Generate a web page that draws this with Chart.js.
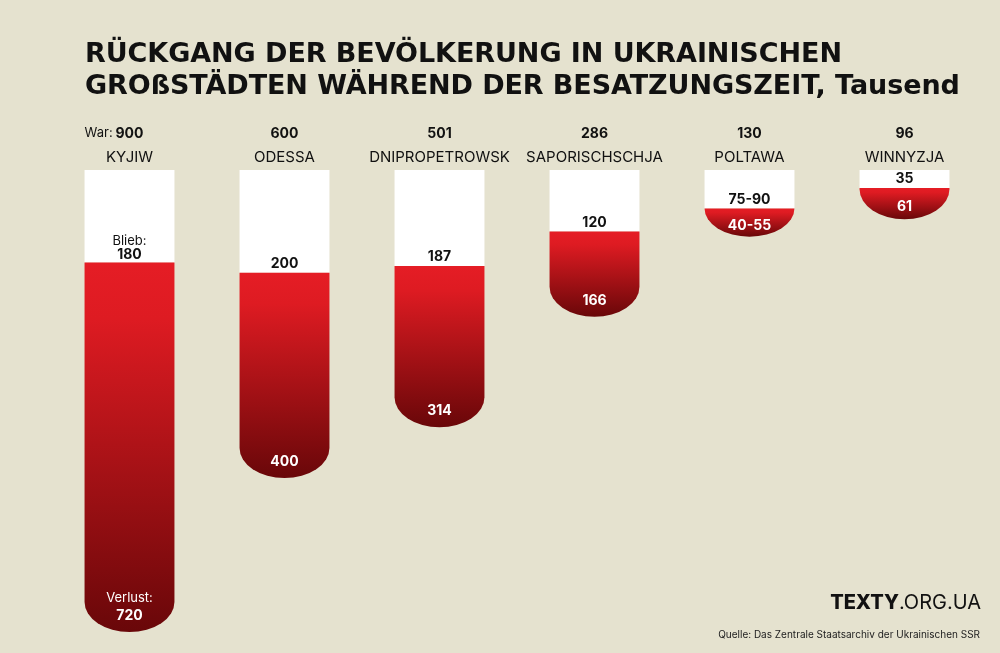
<!DOCTYPE html>
<html>
<head>
<meta charset="utf-8">
<script src="https://cdn.jsdelivr.net/npm/chart.js@4"></script>
<style>
  html, body { margin: 0; padding: 0; background: #e5e2cf; }
</style>
</head>
<body>
<canvas id="popChart" width="1000" height="653"></canvas>
<script>
// Population of Ukrainian cities before / during the occupation, thousands
const cities = ["KYJIW", "ODESSA", "DNIPROPETROWSK", "SAPORISCHSCHJA", "POLTAWA", "WINNYZJA"];
const totals = [900, 600, 501, 286, 130, 96];
const remained = [180, 200, 187, 120, 75, 35];
const lost = [720, 400, 314, 166, 55, 61];
const remainedLabels = ["180", "200", "187", "120", "75-90", "35"];
const lostLabels = ["720", "400", "314", "166", "40-55", "61"];

const titleLines = [
  "RÜCKGANG DER BEVÖLKERUNG IN UKRAINISCHEN",
  "GROßSTÄDTEN WÄHREND DER BESATZUNGSZEIT, Tausend",
];
const titleWidths = [757, 875]; // width each title line takes in the reference

const BG = "#e5e2cf";
const INK = "#111111";

// draws the red part of each bar with an elliptic bottom and gradient
const lossBars = {
  id: "lossBars",
  afterDatasetsDraw(chart) {
    const ctx = chart.ctx;
    const meta = chart.getDatasetMeta(1);
    meta.data.forEach((bar) => {
      const { x, y, base, width } = bar.getProps(["x", "y", "base", "width"], true);
      const top = Math.min(y, base);
      const bottom = Math.max(y, base);
      const left = x - width / 2;
      const right = x + width / 2;
      const ry = Math.min(30, bottom - top);

      const grad = ctx.createLinearGradient(0, top, 0, bottom);
      grad.addColorStop(0, "#e51d25");
      grad.addColorStop(0.15, "#de1b22");
      grad.addColorStop(1, "#690709");

      ctx.save();
      ctx.beginPath();
      ctx.moveTo(left, top);
      ctx.lineTo(right, top);
      ctx.lineTo(right, bottom - ry);
      ctx.ellipse(x, bottom - ry, width / 2, ry, 0, 0, Math.PI);
      ctx.lineTo(left, top);
      ctx.closePath();
      ctx.fillStyle = grad;
      ctx.fill();
      ctx.restore();
    });
  },
};

// texts: title, totals, city names, values, source
const textLayer = {
  id: "textLayer",
  beforeDraw(chart) {
    const ctx = chart.ctx;
    ctx.save();
    ctx.fillStyle = BG;
    ctx.fillRect(0, 0, chart.width, chart.height);
    ctx.restore();
  },
  afterDraw(chart) {
    const ctx = chart.ctx;
    const xs = chart.scales.x;
    const ys = chart.scales.y;
    ctx.save();
    ctx.textBaseline = "alphabetic";

    // title, each line spread to the reference width
    ctx.fillStyle = INK;
    ctx.textAlign = "left";
    ctx.font = "bold 27px 'DejaVu Sans'";
    titleLines.forEach((line, k) => {
      ctx.letterSpacing = "0px";
      const w = ctx.measureText(line).width;
      const sp = (titleWidths[k] - w) / (line.length - 1);
      ctx.letterSpacing = sp.toFixed(2) + "px";
      ctx.fillText(line, 85, k === 0 ? 62 : 94);
    });
    ctx.letterSpacing = "0px";

    cities.forEach((city, i) => {
      const x = xs.getPixelForValue(i);
      const bar = chart.getDatasetMeta(0).data[i];
      const half = bar.width / 2;
      const boundary = ys.getPixelForValue(remained[i]);
      const bottom = ys.getPixelForValue(remained[i] + lost[i]);

      ctx.textAlign = "center";
      ctx.fillStyle = INK;
      ctx.font = "700 14px Inter";
      ctx.fillText(String(totals[i]), x, 138);
      if (i === 0) {
        ctx.textAlign = "left";
        ctx.font = "400 13px Inter";
        ctx.fillText("War:", x - half, 137);
        ctx.textAlign = "center";
      }

      ctx.font = "400 15px Inter";
      ctx.fillText(city, x, 162);

      // remained label
      ctx.font = "700 14px Inter";
      const rb = i === 0 ? boundary - 3 : boundary - 5;
      ctx.fillText(remainedLabels[i], x, rb);
      if (i === 0) {
        ctx.font = "400 13px Inter";
        ctx.fillText("Blieb:", x, rb - 14);
      }

      // lost label
      ctx.fillStyle = "#ffffff";
      ctx.font = "700 14px Inter";
      const lb = bottom - Math.min(12, (bottom - boundary) * 0.25);
      ctx.fillText(lostLabels[i], x, lb);
      if (i === 0) {
        ctx.font = "400 13px Inter";
        ctx.fillText("Verlust:", x, lb - 18);
      }
    });

    // brand and source
    ctx.fillStyle = INK;
    ctx.textAlign = "right";
    ctx.font = "400 20px Inter";
    const tail = ".ORG.UA";
    const tailW = ctx.measureText(tail).width;
    ctx.fillText(tail, 981, 609);
    ctx.font = "800 20px Inter";
    ctx.fillText("TEXTY", 981 - tailW, 609);

    ctx.font = "400 10px Inter";
    ctx.fillStyle = "#222222";
    ctx.fillText("Quelle: Das Zentrale Staatsarchiv der Ukrainischen SSR", 980, 638);
    ctx.restore();
  },
};

new Chart(document.getElementById("popChart").getContext("2d"), {
  type: "bar",
  data: {
    labels: cities,
    datasets: [
      {
        label: "Blieb",
        data: remained,
        backgroundColor: "#ffffff",
        borderWidth: 0,
      },
      {
        label: "Verlust",
        data: lost,
        backgroundColor: "rgba(0,0,0,0)",
        borderWidth: 0,
      },
    ],
  },
  options: {
    responsive: false,
    animation: false,
    layout: { padding: { left: 52, right: 18, top: 170, bottom: 21 } },
    datasets: { bar: { categoryPercentage: 1, barPercentage: 0.58 } },
    scales: {
      x: { display: false, stacked: true },
      y: { display: false, stacked: true, reverse: true, min: 0, max: 900 },
    },
    plugins: {
      legend: { display: false },
      tooltip: { enabled: false },
      title: { display: false },
    },
  },
  plugins: [textLayer, lossBars],
});
</script>
</body>
</html>
